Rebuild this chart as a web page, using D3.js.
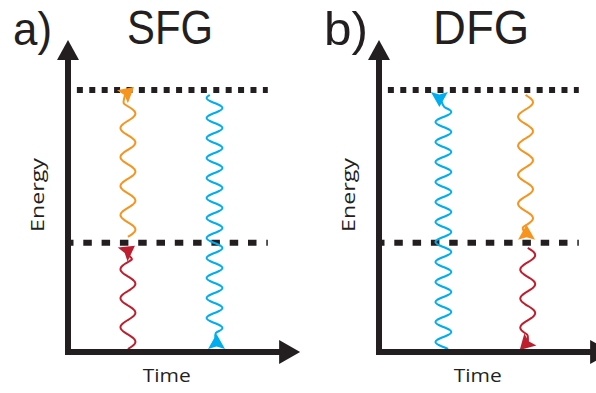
<!DOCTYPE html>
<html><head><meta charset="utf-8">
<script src="https://cdn.jsdelivr.net/npm/d3@7"></script>
<style>html,body{margin:0;padding:0;background:#fff;}svg{display:block;}</style>
</head><body>
<svg id="c" width="596" height="393"></svg>
<script>
// ---- data ----
const panels = ["a)", "b)"];
const titles = ["SFG", "DFG"];
const xLabel = "Time";
const yLabel = "Energy";
// energy levels: ground, lower virtual state, upper virtual state
const levels = [0, 1, 2.4];
// waves per panel: colour key, time position, energy from, energy to, arrow at which end
const wavesSFG = [
  {c: "orange", t: 2.7, e0: 1, e1: 2.4, arrow: "end"},
  {c: "red",    t: 2.7, e0: 0, e1: 1,   arrow: "end"},
  {c: "blue",   t: 6.6, e0: 0, e1: 2.4, arrow: "start"}
];
const wavesDFG = [
  {c: "blue",   t: 2.9, e0: 2.4, e1: 0, arrow: "start"},
  {c: "orange", t: 6.6, e0: 2.4, e1: 1, arrow: "end"},
  {c: "red",    t: 6.7, e0: 1,   e1: 0, arrow: "end"}
];
const waveSets = [wavesSFG, wavesDFG];

// ---- styles ----
const ink = "#231F20";
const colors = {orange: "#F7941D", red: "#BE1E2D", blue: "#00AEEF"};
const waveStyle = {orange: {amp: 7.5, period: 29}, red: {amp: 7.5, period: 29}, blue: {amp: 8, period: 20}};
// pixel insets of wave ends (start, end) and arrow tip offset from its level / angle
const waveGeom = [
  [ {i0: 6, i1: 13, dx: 6, dy: -3, ang: -40},
    {i0: 3, i1: 16, dx: 7, dy: 3, ang: -35},
    {i0: 19, i1: 5, dx: 2, dy: -18, ang: -90} ],
  [ {i0: 17, i1: 3, dx: -4, dy: 17, ang: 90},
    {i0: 5, i1: 15, dx: 1, dy: -18, ang: -90},
    {i0: 5, i1: 17, dx: -8, dy: -2, ang: 135} ]
];
const origins = [68, 379];
const fontFam = "'Open Sans', 'Noto Sans', sans-serif";
const bigFont = "'Liberation Sans', Arial, sans-serif";
const headLen = 15, headHalf = 8.5, notch = 2.5;

const svg = d3.select("#c");
const y = d3.scaleLinear().domain([0, 2.4]).range([352, 90]);

panels.forEach((lab, p) => {
  const x0 = origins[p];
  const x = d3.scaleLinear().domain([0, 10]).range([x0, x0 + 222]);
  const g = svg.append("g");

  // level lines
  g.append("line").attr("x1", x(0.4)).attr("x2", x(9.0))
    .attr("y1", y(levels[2])).attr("y2", y(levels[2]))
    .attr("stroke", ink).attr("stroke-width", 6).attr("stroke-dasharray", "6 6.4");
  g.append("line").attr("x1", x(0) - 3).attr("x2", x(9.0))
    .attr("y1", y(levels[1])).attr("y2", y(levels[1]))
    .attr("stroke", ink).attr("stroke-width", 6).attr("stroke-dasharray", "8.5 9.8");

  // waves
  waveSets[p].forEach((w, k) => {
    const st = waveStyle[w.c], gm = waveGeom[p][k];
    const cx = x(w.t);
    const ya = y(w.e0), yb = y(w.e1);
    const dir = yb > ya ? 1 : -1;
    const s = ya + dir * gm.i0, e = yb - dir * gm.i1;
    const n = Math.ceil(Math.abs(e - s));
    const pts = d3.range(n + 1).map(i => {
      const yy = s + (e - s) * i / n;
      return [cx + st.amp * Math.sin(2 * Math.PI * Math.abs(yy - s) / st.period), yy];
    });
    // arrowhead geometry
    const tipLevel = w.arrow === "end" ? yb : ya;
    const tx = cx + gm.dx, ty = tipLevel + gm.dy;
    const a = gm.ang * Math.PI / 180;
    const bl = headLen - notch - 1;
    const base = [tx - bl * Math.cos(a), ty - bl * Math.sin(a)];
    if (w.arrow === "end") pts.push(base); else pts.unshift(base);
    g.append("path").attr("d", d3.line().curve(d3.curveBasis)(pts))
      .attr("fill", "none").attr("stroke", colors[w.c]).attr("stroke-width", 2);
    g.append("path").attr("d", `M0,0 L${-headLen},${-headHalf} L${-headLen + notch},0 L${-headLen},${headHalf} Z`)
      .attr("fill", colors[w.c])
      .attr("transform", `translate(${tx},${ty}) rotate(${gm.ang})`);
  });

  // axes
  g.append("line").attr("x1", x0).attr("x2", x0).attr("y1", y(0) + 3).attr("y2", 58)
    .attr("stroke", ink).attr("stroke-width", 6);
  g.append("path").attr("d", `M${x0 - 11},60 L${x0 + 11},60 L${x0},40 Z`).attr("fill", ink);
  g.append("line").attr("x1", x0 - 3).attr("x2", x(9.6)).attr("y1", y(0)).attr("y2", y(0))
    .attr("stroke", ink).attr("stroke-width", 6);
  g.append("path").attr("d", `M${x(9.6) - 2},${y(0) - 12} L${x(9.6) - 2},${y(0) + 12} L${x(9.6) + 19},${y(0)} Z`).attr("fill", ink);

  // texts
  g.append("text").text(lab).attr("x", x0 - 55).attr("y", 45)
    .attr("font-family", bigFont).attr("font-size", 47).attr("fill", ink)
    .attr("textLength", p === 0 ? 39 : 44).attr("lengthAdjust", "spacingAndGlyphs");
  g.append("text").text(titles[p]).attr("x", x(4.6)).attr("y", 44).attr("text-anchor", "middle")
    .attr("font-family", bigFont).attr("font-size", 48).attr("fill", ink)
    .attr("textLength", p === 0 ? 86 : 96).attr("lengthAdjust", "spacingAndGlyphs");
  g.append("text").text(xLabel).attr("x", x(4.45)).attr("y", 382).attr("text-anchor", "middle")
    .attr("font-family", fontFam).attr("font-size", 19).attr("fill", ink)
    .attr("textLength", 48).attr("lengthAdjust", "spacingAndGlyphs");
  g.append("text").text(yLabel)
    .attr("transform", `translate(${x0 - 24},195) rotate(-90)`).attr("text-anchor", "middle")
    .attr("font-family", fontFam).attr("font-size", 19).attr("fill", ink)
    .attr("textLength", 74).attr("lengthAdjust", "spacingAndGlyphs");
});
</script>
</body></html>
